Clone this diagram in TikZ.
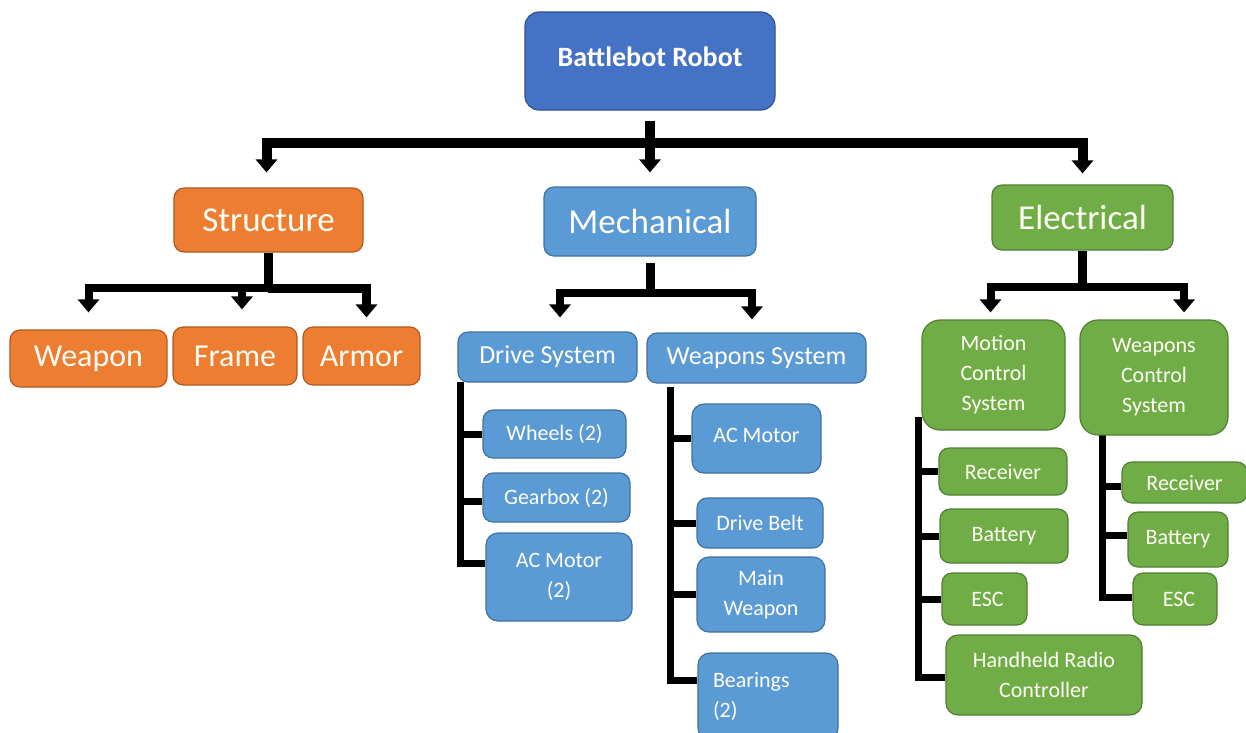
\documentclass[tikz,border=0pt]{standalone}
\usepackage{fontspec}
\setmainfont{Carlito}
\usetikzlibrary{arrows.meta}
\definecolor{orgF}{HTML}{ED7D31}
\definecolor{orgD}{HTML}{AE5A21}
\definecolor{bluF}{HTML}{5B9BD5}
\definecolor{bluD}{HTML}{41719C}
\definecolor{dbF}{HTML}{4472C4}
\definecolor{dbD}{HTML}{2F528F}
\definecolor{grnF}{HTML}{70AD47}
\definecolor{grnD}{HTML}{507E32}
\definecolor{txt}{HTML}{FFFDF5}
\pgfdeclarelayer{bg}
\pgfsetlayers{bg,main}
\newcommand{\bx}[7]{\node[#6, minimum width={#4-#2}, minimum height={#5-#3}] (#1) at ({(#2+#4)/2},{(#3+#5)/2}) {#7};}
\tikzset{
  box/.style={draw, line width=1.2pt, rounded corners=10pt, inner sep=0pt, text=txt, align=center},
  orgbox/.style={box, fill=orgF, draw=orgD},
  blubox/.style={box, fill=bluF, draw=bluD},
  dbbox/.style={box, fill=dbF, draw=dbD, rounded corners=14pt},
  grnbox/.style={box, fill=grnF, draw=grnD},
  fbig/.style={font=\fontsize{35}{40}\selectfont},
  fmid/.style={font=\fontsize{32}{38}\selectfont},
  fsys/.style={font=\fontsize{26}{30}\selectfont},
  fsmall/.style={font=\fontsize{22}{30}\selectfont},
  arrowline/.style={draw=black, line join=miter, -{Triangle[width=21pt,length=13pt]}},
  plainline/.style={draw=black, line join=miter},
}
\begin{document}
\begin{tikzpicture}[x=1pt,y=-1pt]
\useasboundingbox (0,0) rectangle (1246,732);
% top
\bx{robot}{525}{12}{775}{110}{dbbox,font=\fontsize{28}{32}\selectfont\bfseries}{\raisebox{8pt}{Battlebot Robot}}
% structure
\bx{struct}{174}{188}{363}{252}{orgbox,fbig}{Structure}
\bx{weapon}{10}{330}{167}{387}{orgbox,fmid}{Weapon}
\bx{frame}{173}{327}{297}{385}{orgbox,fmid}{Frame}
\bx{armor}{303}{327}{420}{385}{orgbox,fmid}{Armor}
% mechanical
\bx{mech}{544}{187}{756}{256}{blubox,fbig}{Mechanical}
\bx{drive}{458}{332}{637}{382}{blubox,fsys}{Drive System}
\bx{wsys}{647}{333}{866}{383}{blubox,fsys}{Weapons System}
\bx{wheels}{483}{410}{626}{458}{blubox,fsmall}{Wheels (2)}
\bx{gear}{483}{473}{630}{522}{blubox,fsmall}{Gearbox (2)}
\bx{acmtwo}{486}{533}{632}{621}{blubox,fsmall,rounded corners=12pt}{AC Motor\\(2)}
\bx{acm}{692}{404}{821}{473}{blubox,fsmall,rounded corners=12pt}{\raisebox{6pt}{AC Motor}}
\bx{belt}{697}{498}{823}{548}{blubox,fsmall}{Drive Belt}
\bx{mainw}{697}{557}{825}{632}{blubox,fsmall,rounded corners=12pt}{Main\\Weapon}
\bx{bear}{698}{653}{838}{740}{blubox,fsmall,rounded corners=12pt,text width=110pt,align=left}{Bearings\\(2)}
% electrical
\bx{elec}{992}{185}{1173}{250}{grnbox,fbig}{Electrical}
\bx{mcs}{922}{320}{1065}{430}{grnbox,fsmall,rounded corners=18pt}{Motion\\Control\\System}
\bx{wcs}{1080}{320}{1228}{435}{grnbox,fsmall,rounded corners=18pt}{Weapons\\Control\\System}
\bx{recone}{939}{448}{1067}{495}{grnbox,fsmall}{Receiver}
\bx{batone}{940}{509}{1068}{563}{grnbox,fsmall}{Battery}
\bx{escone}{942}{573}{1027}{625}{grnbox,fsmall}{\hspace*{6pt}ESC}
\bx{hrc}{946}{635}{1142}{715}{grnbox,fsmall,rounded corners=12pt}{Handheld Radio\\Controller}
\bx{rectwo}{1122}{462}{1247}{503}{grnbox,fsmall}{Receiver}
\bx{battwo}{1128}{512}{1228}{567}{grnbox,fsmall}{Battery}
\bx{esctwo}{1133}{573}{1217}{625}{grnbox,fsmall}{\hspace*{8pt}ESC}
% connectors
\coordinate (tb) at (650,143);
\coordinate (sb) at (268,288);
\coordinate (mb) at (650,293);
\coordinate (eb) at (1082,287);
\coordinate (dt) at (460,382);
\coordinate (wt) at (670,387);
\coordinate (mt) at (918,417);
\coordinate (ct) at (1102,433);
\begin{pgfonlayer}{bg}
% level 1
\draw[arrowline, line width=10pt, shorten >=14pt] ([yshift=-10pt]robot.south) -- (mech.north);
\draw[arrowline, line width=10pt, shorten >=15pt] (tb) -| ([xshift=-2pt]struct.north);
\draw[arrowline, line width=10pt, shorten >=11pt] (tb) -| (elec.north);
% structure
\draw[plainline, line width=9pt] (struct.south -| sb) -- (sb);
\draw[arrowline, line width=8pt, shorten >=17pt] (sb) -| (weapon.north);
\draw[arrowline, line width=8pt, shorten >=17pt] (sb) -| ([xshift=7pt]frame.north);
\draw[arrowline, line width=9pt, shorten >=9pt] (sb) -| ([xshift=5pt]armor.north);
% mechanical
\draw[plainline, line width=9pt] ([yshift=-6pt]mech.south) -- (mb);
\draw[arrowline, line width=8pt, shorten >=14pt] (mb) -| ([xshift=12.5pt]drive.north);
\draw[arrowline, line width=8pt, shorten >=13pt] (mb) -| ([xshift=-4.5pt]wsys.north);
% electrical
\draw[plainline, line width=9pt] (elec.south -| eb) -- (eb);
\draw[arrowline, line width=8pt, shorten >=7pt] (eb) -| ([xshift=-3pt]mcs.north);
\draw[arrowline, line width=8pt, shorten >=7pt] (eb) -| ([xshift=30pt]wcs.north);
% drive trunk
\draw[plainline, line width=7pt] (dt) |- ([yshift=14pt]acmtwo.west);
\draw[plainline, line width=7pt] (wheels.west -| dt) -- (wheels.west);
\draw[plainline, line width=7pt] ([yshift=-4pt]gear.west -| dt) -- ([yshift=-4pt]gear.west);
% weapons trunk
\draw[plainline, line width=7pt] (wt) |- ([yshift=16pt]bear.west);
\draw[plainline, line width=7pt] (acm.west -| wt) -- (acm.west);
\draw[plainline, line width=7pt] (belt.west -| wt) -- (belt.west);
\draw[plainline, line width=7pt] (mainw.west -| wt) -- (mainw.west);
% motion trunk
\draw[plainline, line width=7pt] (mt) |- ([yshift=-2pt]hrc.west);
\draw[plainline, line width=7pt] (recone.west -| mt) -- (recone.west);
\draw[plainline, line width=7pt] (batone.west -| mt) -- (batone.west);
\draw[plainline, line width=7pt] (escone.west -| mt) -- (escone.west);
% weapons control trunk
\draw[plainline, line width=7pt] (ct) |- ([yshift=2pt]esctwo.west);
\draw[plainline, line width=7pt] ([yshift=-4pt]rectwo.west -| ct) -- ([yshift=-4pt]rectwo.west);
\draw[plainline, line width=7pt] ([yshift=4pt]battwo.west -| ct) -- ([yshift=4pt]battwo.west);
\end{pgfonlayer}
\end{tikzpicture}
\end{document}
